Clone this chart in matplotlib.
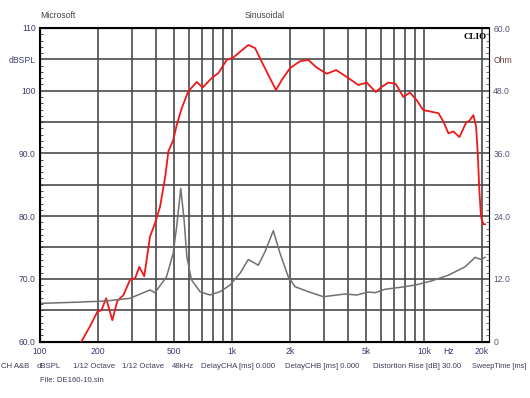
import numpy as np
import matplotlib.pyplot as plt
from matplotlib.ticker import FixedLocator, NullFormatter, MultipleLocator

plt.rcParams['font.family'] = ['Liberation Sans', 'DejaVu Sans']

# SPL response (red, left axis, dBSPL)
spl_freq = [163, 182, 199, 209, 221, 238, 253, 272, 294, 313, 329, 349, 374, 397, 422,
            450, 466, 494, 515, 547, 591, 655, 703, 783, 849, 938, 1016, 1101, 1216,
            1318, 1429, 1547, 1695, 1815, 2005, 2261, 2497, 2760, 3112, 3483, 3957,
            4549, 5030, 5603, 6020, 6520, 7120, 7800, 8450, 9150, 9910, 10740, 11900,
            12630, 13400, 14230, 15290, 16560, 17230, 18080, 18670, 19050, 19410,
            19810, 20360, 20780]
spl_db = [59.8, 62.4, 64.75, 65.0, 66.9, 63.4, 66.5, 67.4, 69.8, 70.1, 71.9, 70.4, 76.7,
          78.85, 81.5, 86.5, 90.3, 92.1, 94.5, 97.2, 99.85, 101.4, 100.5, 102.0, 102.8,
          104.9, 105.3, 106.2, 107.3, 106.8, 104.6, 102.5, 100.1, 101.7, 103.6, 104.7,
          104.9, 103.7, 102.7, 103.3, 102.2, 100.9, 101.3, 99.8, 100.6, 101.3, 101.1,
          99.0, 99.7, 98.5, 96.9, 96.7, 96.4, 95.05, 93.2, 93.5, 92.6, 94.9, 95.2, 96.1,
          94.3, 90.0, 84.2, 79.9, 78.7, 78.7]

# impedance (gray, right axis, Ohm)
imp_freq = [100, 149, 221, 294, 374, 397, 456, 494, 515, 541, 563, 582, 615, 681, 768,
            866, 976, 1101, 1216, 1371, 1486, 1641, 1778, 1963, 2128, 2497, 2990, 3880,
            4467, 5130, 5560, 6270, 7650, 8980, 10960, 13400, 16370, 18450, 19810, 20780]
imp_ohm = [7.3, 7.5, 7.75, 8.27, 9.86, 9.34, 12.4, 16.9, 22.0, 29.3, 23.25, 16.2, 11.8,
           9.53, 8.9, 9.53, 10.8, 13.05, 15.7, 14.6, 17.2, 21.2, 16.9, 12.4, 10.5, 9.53,
           8.57, 9.09, 8.9, 9.47, 9.34, 10.0, 10.4, 10.8, 11.6, 12.7, 14.3, 16.1, 15.7,
           16.1]

grid_freqs = [200, 300, 400, 500, 600, 700, 800, 900, 1000, 2000, 3000, 4000, 5000,
              6000, 7000, 8000, 9000, 10000, 20000]
xtick_vals = [100, 200, 500, 1000, 2000, 5000, 10000, 13500, 20000]
xtick_labels = ['100', '200', '500', '1k', '2k', '5k', '10k', 'Hz', '20k']
ytick_left = [60, 70, 80, 90, 100, 105, 110]
ytick_left_labels = ['60.0', '70.0', '80.0', '90.0', '100', 'dBSPL', '110']
ytick_right = [0, 12, 24, 36, 48, 54, 60]
ytick_right_labels = ['0', '12.0', '24.0', '36.0', '48.0', 'Ohm', '60.0']

info_items = ['CH A&B', 'dBSPL', '1/12 Octave', '1/12 Octave', '48kHz',
              'DelayCHA [ms] 0.000', 'DelayCHB [ms] 0.000',
              'Distortion Rise [dB] 30.00', 'SweepTime [ms]']
info_x = [1, 37, 73, 122, 172, 201, 285, 373, 472]

fs = 6.2
fs_info = 5.6
label_col = '#3c3c6e'
fig = plt.figure(figsize=(5.3, 3.98), dpi=100)
ax = fig.add_axes([40 / 530, 1 - 341.5 / 398, 449 / 530, 313.5 / 398])
ax.set_xscale('log')
ax.set_xlim(100, 21800)
ax.set_ylim(60, 110)

for f in grid_freqs:
    ax.axvline(f, color='#4a4a4a', lw=1.2, zorder=1)
for v in range(65, 110, 5):
    ax.axhline(v, color='#4a4a4a', lw=1.2, zorder=1)

ax.plot(spl_freq, spl_db, color='#f01818', lw=1.3, zorder=3)

ax.xaxis.set_major_locator(FixedLocator(xtick_vals))
ax.set_xticklabels(xtick_labels)
ax.xaxis.set_minor_formatter(NullFormatter())
ax.tick_params(axis='x', which='both', length=0, labelsize=fs, labelcolor=label_col, pad=4)
ax.set_yticks(ytick_left)
ax.set_yticklabels(ytick_left_labels)
ax.yaxis.set_minor_locator(MultipleLocator(1))
ax.tick_params(axis='y', which='major', direction='in', length=0, labelsize=fs,
               labelcolor=label_col, pad=3)
ax.tick_params(axis='y', which='minor', direction='in', length=2.5, color='#333')

for s in ['left', 'bottom', 'top']:
    ax.spines[s].set_linewidth(1.5)
ax.spines['right'].set_linewidth(0.8)
ax.spines['right'].set_color('#777')

ax2 = ax.twinx()
ax2.set_ylim(0, 60)
ax2.plot(imp_freq, imp_ohm, color='#707070', lw=1.1, zorder=2)
ax2.set_yticks(ytick_right)
ax2.set_yticklabels(ytick_right_labels)
ax2.yaxis.set_minor_locator(MultipleLocator(1.2))
ax2.tick_params(axis='y', which='major', direction='in', length=0, labelsize=fs,
                labelcolor='#55557a', pad=3)
ax2.tick_params(axis='y', which='minor', direction='in', length=2.5, color='#555')
for lbl in ax2.get_yticklabels():
    if lbl.get_text() == 'Ohm':
        lbl.set_color('#6a3c3c')
ax2.set_xlim(100, 21800)

ax.text(0.995, 0.985, 'CLIO', transform=ax.transAxes, ha='right', va='top',
        fontsize=6.5, fontweight='bold', family=['Liberation Serif', 'DejaVu Serif'], zorder=5)

fig.text(40 / 530, 1 - 15 / 398, 'Microsoft', fontsize=fs, color='#444', va='center')
fig.text(265 / 530, 1 - 15 / 398, 'Sinusoidal', fontsize=fs, color='#444', va='center', ha='center')
for t, x in zip(info_items, info_x):
    size = 5.3 if t.startswith('Sweep') else fs_info
    fig.text(x / 530, 1 - 366 / 398, t, fontsize=size, color='#3c3c5a', va='center')
fig.text(40 / 530, 1 - 380 / 398, 'File: DE160-10.sin', fontsize=fs_info, color='#3c3c5a', va='center')

fig.savefig('out.png', dpi=100)
